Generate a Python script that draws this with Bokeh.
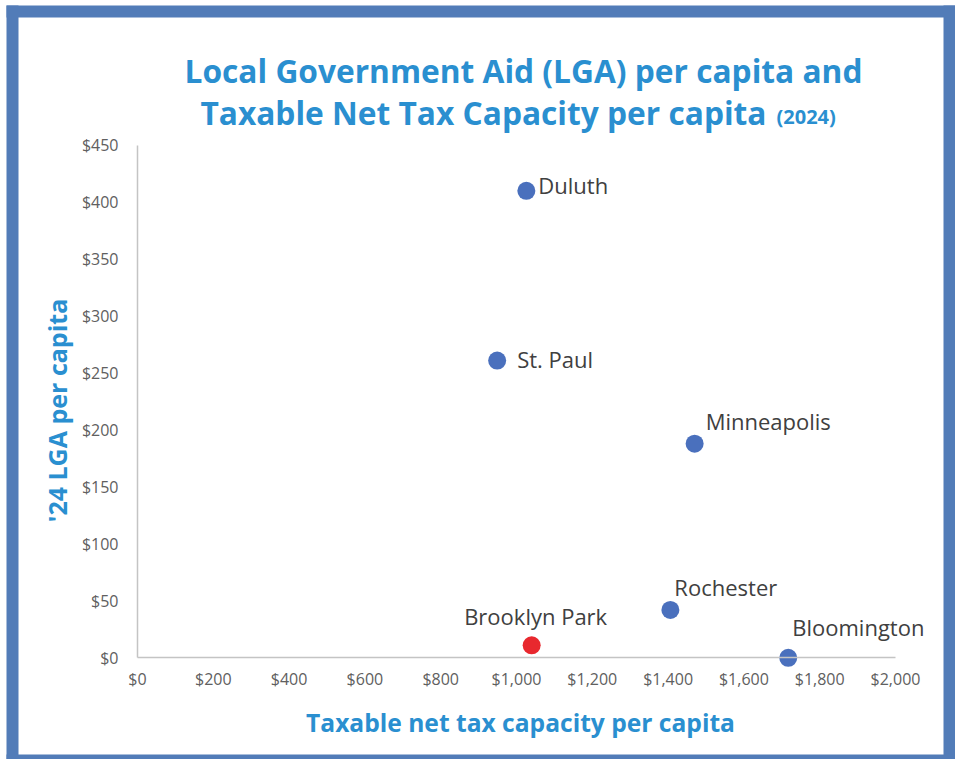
import math
from bokeh.plotting import figure
from bokeh.models import (ColumnDataSource, FixedTicker, NumeralTickFormatter,
                          Label, BoxAnnotation, Range1d)
from bokeh.core.properties import value
from bokeh.embed import file_html
from bokeh.resources import INLINE

# ---- data ----
cities = ["Duluth", "St. Paul", "Minneapolis", "Rochester", "Brooklyn Park", "Bloomington"]
tax_capacity = [1026, 949, 1470, 1406, 1040, 1717]   # taxable net tax capacity per capita ($)
lga = [410, 261, 188, 42, 11, 0]                    # '24 LGA per capita ($)
highlight = "Brooklyn Park"
x_ticks = [0, 200, 400, 600, 800, 1000, 1200, 1400, 1600, 1800, 2000]
y_ticks = [0, 50, 100, 150, 200, 250, 300, 350, 400, 450]

# ---- styling ----
BLUE = "#4a70bd"
RED = "#e8282e"
TITLE_BLUE = "#2a8fd0"
FRAME_BLUE = "#527cb8"
# label offsets (pixels) and alignment per city
label_style = {
    "Duluth": (12, -6, "left"),
    "St. Paul": (20, -2, "left"),
    "Minneapolis": (11, -23, "left"),
    "Rochester": (4, -23, "left"),
    "Brooklyn Park": (4, -29, "center"),
    "Bloomington": (4, -31, "left"),
}

colors = [RED if c == highlight else BLUE for c in cities]
src = ColumnDataSource(dict(x=tax_capacity, y=lga, name=cities, color=colors))

def label_source(align):
    idx = [i for i, c in enumerate(cities) if label_style[c][2] == align]
    return ColumnDataSource(dict(
        x=[tax_capacity[i] for i in idx],
        y=[lga[i] for i in idx],
        name=[cities[i] for i in idx],
        dx=[label_style[cities[i]][0] for i in idx],
        dy=[label_style[cities[i]][1] for i in idx],
    ))

W, H = 955, 759
# plot area covers the whole canvas; axes are placed at fixed data locations
X0_PX, X_SCALE = 137.0, 758.0 / 2000.0      # pixel of x=0, px per unit
Y0_PX, Y_SCALE = 657.3, 512.5 / 450.0       # pixel of y=0 (from top), px per unit
x_range = Range1d(-X0_PX / X_SCALE, (W - X0_PX) / X_SCALE)
y_range = Range1d(-(H - Y0_PX) / Y_SCALE, Y0_PX / Y_SCALE)

p = figure(width=W, height=H, x_range=x_range, y_range=y_range, title=None,
           output_backend="svg", toolbar_location=None,
           min_border_left=0, min_border_right=0, min_border_top=0, min_border_bottom=0)
p.background_fill_color = "white"
p.border_fill_color = "white"
p.outline_line_color = None
p.xgrid.visible = False
p.ygrid.visible = False

for ax in (p.xaxis, p.yaxis):
    ax.axis_line_color = "#c4c4c4"
    ax.axis_line_width = 1.5
    ax.major_tick_line_color = None
    ax.minor_tick_line_color = None
    ax.major_label_text_font = "Open Sans"
    ax.major_label_text_font_size = "16px"
    ax.major_label_text_color = "#606060"
    ax.formatter = NumeralTickFormatter(format="$0,0")
    ax.fixed_location = 0

p.xaxis.ticker = FixedTicker(ticks=x_ticks)
p.yaxis.ticker = FixedTicker(ticks=y_ticks)
p.xaxis.bounds = (0, 2000)
p.yaxis.bounds = (0, 450)
p.xaxis.major_label_standoff = 4
p.yaxis.major_label_standoff = 13

p.scatter("x", "y", source=src, size=18, fill_color="color", line_color=None)

for align in ("left", "center"):
    p.text(x="x", y="y", text="name", source=label_source(align),
           x_offset="dx", y_offset="dy",
           text_font=value("Open Sans"), text_font_size="22px",
           text_color="#404040", text_align=align, text_baseline="alphabetic")

# ---- titles (screen units: from left / from bottom of canvas) ----
def lab(text, x, y_from_top, size, align="center", angle=0.0):
    p.add_layout(Label(text=text, x=x, y=H - y_from_top, x_units="screen", y_units="screen",
                       text_font="Open Sans", text_font_style="bold",
                       text_font_size=size, text_color=TITLE_BLUE,
                       text_align=align, text_baseline="alphabetic", angle=angle))

lab("Local Government Aid (LGA) per capita and", 523, 69.5, "31.7px")
lab("Taxable Net Tax Capacity per capita", 766, 111.5, "31.7px", align="right")
lab("(2024)", 776, 115.5, "20px", align="left")
lab("Taxable net tax capacity per capita", 520, 722, "24.6px")
lab("'24 LGA per capita", 56, 410, "25px", angle=math.pi / 2)

# ---- blue frame ----
def band(left, right, top_px, bottom_px):
    p.add_layout(BoxAnnotation(left=left, right=right, bottom=H - bottom_px, top=H - top_px,
                               left_units="screen", right_units="screen",
                               bottom_units="screen", top_units="screen",
                               fill_color=FRAME_BLUE, fill_alpha=1.0,
                               line_alpha=0, level="overlay"))

band(6, 18, 5, H)        # left
band(6, W, 5, 17)        # top
band(943, W, 5, H)       # right
band(6, W, 754, H)       # bottom

open("out.html", "w").write(file_html(p, INLINE))
